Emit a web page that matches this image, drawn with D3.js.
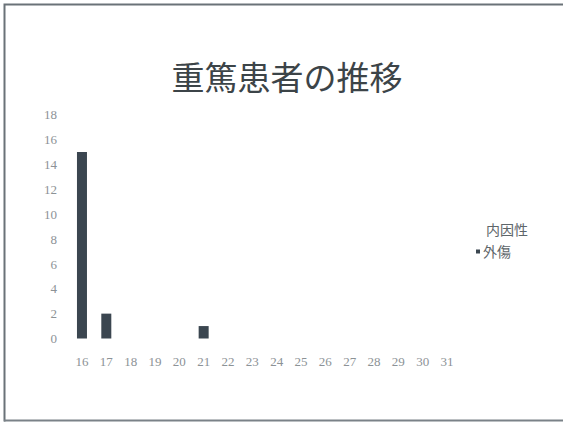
<!DOCTYPE html>
<html><head><meta charset="utf-8">
<script src="https://cdn.jsdelivr.net/npm/d3@7"></script>
<style>body{margin:0;background:#fff}svg{display:block}</style>
</head><body>
<script>
const categories = ["16","17","18","19","20","21","22","23","24","25","26","27","28","29","30","31"];
const naiinsei = [0,0,0,0,0,0,0,0,0,0,0,0,0,0,0,0];
const gaisho   = [15,2,0,0,0,1,0,0,0,0,0,0,0,0,0,0];
const yTicks = [0,2,4,6,8,10,12,14,16,18];
const seriesNames = ["内因性","外傷"];
const title = "重篤患者の推移";

const W=563,H=423;
const svg=d3.select("body").append("svg").attr("width",W).attr("height",H);
svg.append("rect").attr("width",W).attr("height",H).attr("fill","#fff");
// frame
svg.append("path").attr("d","M4.5,421.5 L4.5,4.5 L563,4.5").attr("fill","none").attr("stroke","#6a7278").attr("stroke-width",2);
svg.append("line").attr("x1",4).attr("x2",563).attr("y1",420.5).attr("y2",420.5).attr("stroke","#7a8288").attr("stroke-width",2);

const x=d3.scaleBand().domain(categories).range([69.8,459.2]).paddingInner(0).paddingOuter(0);
const y=d3.scaleLinear().domain([0,18]).range([338.5,114.7]);

svg.append("text").attr("x",287).attr("y",90).attr("text-anchor","middle")
  .attr("font-family","'Noto Sans CJK JP'").attr("font-size",33).attr("fill","#3c4448").text(title);

const yAxis=d3.axisLeft(y).tickValues(yTicks).tickSize(0).tickPadding(0);
const gy=svg.append("g").attr("transform","translate(57,0)").call(yAxis);
gy.select(".domain").remove();
gy.selectAll("text").attr("font-family","'Liberation Serif'").attr("font-size",13).attr("fill","#8c9296");

const xAxis=d3.axisBottom(x).tickSize(0).tickPadding(0);
const gx=svg.append("g").attr("transform","translate(0,357)").call(xAxis);
gx.select(".domain").remove();
gx.selectAll("text").attr("font-family","'Liberation Serif'").attr("font-size",13).attr("fill","#8c9296");

const bw=10;
svg.append("g").selectAll("rect").data(categories.map((c,i)=>({c,v:naiinsei[i]}))).join("rect")
  .attr("x",d=>x(d.c)+x.bandwidth()/2-bw/2).attr("width",bw)
  .attr("y",d=>y(d.v)).attr("height",d=>y(0)-y(d.v)).attr("fill","#ffffff");
svg.append("g").selectAll("rect").data(categories.map((c,i)=>({c,v:gaisho[i]}))).join("rect")
  .attr("x",d=>x(d.c)+x.bandwidth()/2-bw/2).attr("width",bw)
  .attr("y",d=>y(d.v)).attr("height",d=>y(0)-y(d.v)).attr("fill","#3b4650");

// legend
const lg=svg.append("g");
const legendColors=["#ffffff","#3b4650"];
const ly=[230,252];
seriesNames.forEach((n,i)=>{
  lg.append("rect").attr("x",476).attr("y",ly[i]-2.5).attr("width",4).attr("height",4).attr("fill",legendColors[i]);
  lg.append("text").attr("x",i===0?486:483).attr("y",ly[i]).attr("dy","0.35em")
    .attr("font-family","'Noto Sans CJK JP'").attr("font-size",14).attr("fill","#5e666a").text(n);
});
</script>
</body></html>
